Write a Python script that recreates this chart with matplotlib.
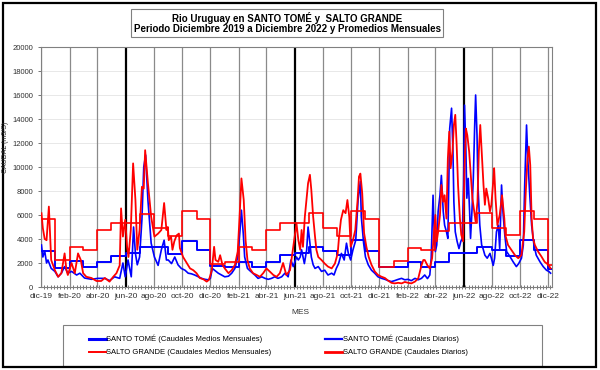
import numpy as np
import matplotlib.pyplot as plt
from matplotlib.lines import Line2D
from matplotlib.patches import Rectangle

plt.rcParams['font.family'] = ['Liberation Sans', 'DejaVu Sans']

# Eje temporal: dias contados desde el 1 de diciembre de 2019
inicio = np.datetime64('2019-12-01')
fin = np.datetime64('2022-12-09')

# Caudales diarios SALTO GRANDE (m3/s)
dias_sg = [1, 4, 8, 12, 17, 22, 30, 37, 44, 51, 55, 58, 66, 73, 80, 86, 91, 98, 109, 120,
           130, 138, 148, 156, 163, 170, 173, 177, 182, 186, 189, 194, 199, 204, 208, 213, 218, 222, 225, 231,
           238, 245, 253, 260, 266, 271, 274, 276, 281, 284, 288, 293, 298, 300, 307, 315, 322, 329, 336, 343,
           351, 358, 363, 369, 374, 377, 383, 387, 392, 397, 405, 412, 419, 425, 429, 433, 438, 442, 446, 451,
           458, 466, 473, 480, 487, 494, 502, 509, 516, 523, 530, 538, 545, 550, 552, 556, 560, 563, 566, 570,
           574, 577, 581, 584, 588, 592, 595, 599, 606, 613, 620, 628, 635, 641, 644, 648, 653, 658, 662, 666,
           669, 674, 679, 684, 687, 690, 694, 698, 703, 708, 714, 721, 728, 736, 743, 750, 757, 764, 772, 779,
           786, 793, 800, 808, 815, 822, 826, 829, 835, 840, 845, 849, 852, 855, 858, 862, 865, 869, 872, 876,
           879, 882, 885, 889, 892, 895, 898, 901, 905, 908, 912, 915, 918, 921, 925, 928, 932, 936, 939, 943,
           946, 949, 953, 956, 959, 962, 966, 970, 973, 977, 979, 982, 986, 991, 996, 1001, 1003, 1009, 1016, 1024,
           1031, 1038, 1044, 1047, 1051, 1054, 1057, 1060, 1063, 1067, 1074, 1081, 1088, 1096, 1101]
sg_diario = [6150, 4900, 4000, 3900, 6700, 2250, 1400, 850, 1150, 2800, 1400, 1000, 2000, 1150, 2800, 2250, 1150, 850, 750, 500,
             500, 750, 450, 850, 1150, 1800, 6550, 4200, 5600, 3350, 2500, 4750, 10300, 7250, 3100, 4750, 8350, 8200, 11400, 8650,
             5850, 4200, 4450, 4750, 7000, 4750, 5000, 3900, 4200, 3100, 3800, 4300, 4450, 3250, 2500, 2000, 1550, 1400, 1150, 750,
             640, 450, 600, 1400, 3350, 2250, 2100, 2650, 1850, 1550, 1150, 1400, 1850, 2950, 5850, 9050, 7250, 3900, 2250, 1550,
             1150, 1000, 850, 1150, 1550, 1300, 1000, 850, 1150, 2000, 1000, 1400, 3350, 4750, 5300, 3900, 3100, 4750, 3350, 5850,
             7500, 8650, 9350, 8100, 5850, 4200, 3100, 2500, 2250, 1950, 1700, 1550, 1950, 2800, 4200, 5600, 6400, 6150, 7250, 5850,
             3350, 3900, 4750, 7250, 9200, 9450, 7800, 4500, 3350, 2500, 1850, 1300, 1000, 850, 750, 530, 350, 300, 350, 300,
             420, 350, 300, 450, 720, 1800, 2250, 2250, 1800, 1550, 2400, 4600, 6000, 3800, 4600, 6000, 8500, 7100, 7650, 5700,
             10700, 12950, 9900, 11300, 13500, 14350, 11850, 8500, 5700, 4350, 3800, 9900, 13200, 12650, 11300, 9600, 7400, 6300, 5450, 7100,
             11300, 13500, 10700, 8500, 6850, 8200, 7400, 6300, 6850, 8800, 9900, 7400, 5150, 6000, 7650, 5700, 4350, 3500, 3100, 2650,
             2400, 2650, 4600, 7650, 10700, 11700, 10150, 5700, 4050, 3500, 2950, 2550, 2100, 1850, 1550]

# Caudales diarios SANTO TOME (m3/s)
dias_st = [1, 4, 8, 12, 15, 22, 30, 37, 44, 51, 58, 66, 77, 84, 94, 109, 123, 138, 148, 159,
           170, 177, 182, 188, 195, 200, 204, 208, 213, 218, 222, 226, 231, 238, 245, 253, 260, 266, 271, 275,
           282, 289, 296, 303, 311, 318, 325, 332, 340, 347, 354, 361, 366, 370, 375, 383, 390, 397, 405, 412,
           419, 425, 430, 433, 437, 440, 446, 453, 462, 469, 477, 484, 491, 498, 505, 512, 520, 527, 534, 540,
           545, 552, 556, 560, 563, 569, 574, 577, 581, 584, 588, 592, 599, 606, 613, 620, 628, 633, 638, 643,
           649, 655, 660, 664, 669, 674, 680, 685, 690, 692, 697, 701, 707, 714, 721, 728, 736, 743, 750, 757,
           764, 772, 779, 786, 793, 800, 808, 815, 822, 829, 835, 840, 843, 847, 849, 852, 855, 858, 862, 865,
           869, 872, 876, 879, 883, 887, 890, 892, 895, 899, 903, 907, 910, 913, 915, 918, 920, 923, 926, 928,
           931, 934, 937, 939, 942, 944, 948, 952, 955, 959, 964, 970, 973, 977, 980, 984, 988, 991, 995, 998,
           1002, 1006, 1013, 1020, 1027, 1032, 1038, 1042, 1045, 1049, 1052, 1056, 1060, 1065, 1070, 1078, 1085, 1092, 1097, 1101]
st_diario = [3500, 2500, 3000, 2000, 2250, 1550, 1300, 850, 1150, 1700, 1150, 1300, 1000, 1150, 750, 640, 720, 720, 530, 850,
             720, 2000, 850, 2250, 850, 5000, 2800, 1850, 2500, 5600, 10000, 11000, 7250, 3650, 2500, 1800, 3100, 3900, 2250, 2250,
             1950, 2500, 1850, 1550, 1400, 1150, 1100, 1000, 850, 720, 640, 600, 720, 1550, 1400, 1150, 1000, 850, 900, 1150,
             1550, 2500, 4750, 6400, 4450, 2500, 1550, 1300, 1000, 720, 850, 720, 640, 720, 850, 720, 850, 1150, 850, 2250,
             1700, 2500, 2250, 2500, 3100, 1950, 3100, 5000, 3650, 2500, 1850, 1550, 1700, 1300, 1400, 1000, 1150, 1000, 1550, 1950,
             2800, 2250, 3650, 2800, 2250, 3100, 3900, 7250, 8800, 5850, 3650, 2500, 1850, 1400, 1150, 850, 720, 640, 530, 450,
             530, 640, 720, 600, 640, 530, 720, 600, 720, 1000, 700, 1000, 2400, 7650, 5150, 2950, 3500, 6300, 7650, 9300,
             6300, 5150, 4600, 4050, 13200, 14900, 11300, 7100, 4600, 3800, 3200, 3800, 4050, 8500, 15150, 11300, 7400, 9050, 6300, 4050,
             6300, 9050, 13500, 16000, 12650, 8500, 5150, 3500, 3200, 2650, 2400, 2800, 2400, 1800, 2400, 4600, 5150, 3200, 8500, 6300,
             4350, 2950, 2550, 2100, 1700, 1950, 2400, 3500, 8500, 13500, 10450, 7650, 5150, 3500, 2650, 2100, 1700, 1400, 1300, 1150]

# Promedios mensuales, dic-19 a dic-22
st_mensual = [3000, 1600, 2150, 1700, 2050, 2600, 2850, 3350, 3300, 2750, 3850, 3050,
              1750, 1650, 2050, 1700, 2100, 2650, 2850, 3350, 3000, 2700, 3900, 3000,
              1650, 1650, 2100, 1700, 2100, 2800, 2850, 3350, 3100, 2600, 3900, 3050,
              1500]
sg_mensual = [5700, 2250, 3300, 3100, 4750, 5300, 5300, 6100, 4950, 4250, 6350, 5700,
              1900, 2100, 3300, 3100, 4750, 5300, 5350, 6150, 4950, 4250, 6330, 5650,
              1700, 2200, 3250, 3100, 4700, 5300, 5300, 6140, 4950, 4330, 6330, 5660,
              1800]

etiquetas = ['dic-19', 'feb-20', 'abr-20', 'jun-20', 'ago-20', 'oct-20', 'dic-20', 'feb-21', 'abr-21', 'jun-21',
             'ago-21', 'oct-21', 'dic-21', 'feb-22', 'abr-22', 'jun-22', 'ago-22', 'oct-22', 'dic-22']

leyenda = ['SANTO TOMÉ (Caudales Medios Mensuales)', 'SALTO GRANDE (Caudales Medios Mensuales)',
           'SANTO TOMÉ (Caudales Diarios)', 'SALTO GRANDE (Caudales Diarios)']

AZUL = '#0000ff'
ROJO = '#ff0000'

meses = np.arange('2019-12', '2023-01', dtype='datetime64[M]').astype('datetime64[D]')
x_mes = np.append(meses, fin)
fechas_sg = inicio + np.array(dias_sg).astype('timedelta64[D]')
fechas_st = inicio + np.array(dias_st).astype('timedelta64[D]')

fig = plt.figure(figsize=(6, 3.7), dpi=100)
ax = fig.add_axes([41 / 600, 1 - 287 / 370, 511 / 600, 240 / 370])

# series
ax.plot(x_mes, np.append(st_mensual, st_mensual[-1]), drawstyle='steps-post', color=AZUL, lw=1.4, zorder=3)
ax.plot(fechas_st, st_diario, color=AZUL, lw=1.2, zorder=3)
ax.plot(x_mes, np.append(sg_mensual, sg_mensual[-1]), drawstyle='steps-post', color=ROJO, lw=1.2, zorder=4)
ax.plot(fechas_sg, sg_diario, color=ROJO, lw=1.3, zorder=4)

# grilla vertical cada dos meses, junio mas marcado
ticks = meses[::2]
for t, lab in zip(ticks, etiquetas):
    if lab.startswith('jun'):
        ax.axvline(t, color='black', lw=1.6, zorder=2)
    else:
        ax.axvline(t, color='#8a8a8a', lw=0.9, zorder=2)

ax.set_xlim(inicio, fin)
ax.set_ylim(0, 20000)
ax.set_yticks(np.arange(0, 20001, 2000))
ax.yaxis.grid(True, color='#e4e4e4', lw=0.6, zorder=1)
ax.set_xticks(ticks)
ax.set_xticklabels(etiquetas)
ax.set_xticks(np.arange(inicio, fin, 7), minor=True)
ax.tick_params(axis='x', which='minor', length=2.5, direction='inout', color='#606060', width=0.6)
ax.tick_params(axis='x', which='major', length=0, pad=4, labelsize=6, labelcolor='#303030')
ax.tick_params(axis='y', length=2.5, width=0.6, color='#606060', pad=3, labelsize=5.5, labelcolor='#303030')
for s in ax.spines.values():
    s.set_color('#808080')
    s.set_linewidth(0.8)

fig.text(6 / 600, 1 - 147 / 370, 'CAUDAL (m3/S)', rotation=90, fontsize=5, ha='center', va='center', color='#303030')
fig.text(300 / 600, 1 - 312 / 370, 'MES', fontsize=6, ha='center', va='center', color='#303030')

fig.text(287 / 600, 1 - 23 / 370,
         'Rio Uruguay en SANTO TOMÉ y  SALTO GRANDE\nPeriodo Diciembre 2019 a Diciembre 2022 y Promedios Mensuales',
         ha='center', va='center', fontsize=7, fontweight='bold', linespacing=1.05,
         bbox=dict(boxstyle='square,pad=0.3', fc='white', ec='#808080', lw=0.8))

# leyenda
handles = [Line2D([], [], color=AZUL, lw=2.2), Line2D([], [], color=ROJO, lw=1.4),
           Line2D([], [], color=AZUL, lw=1.6), Line2D([], [], color=ROJO, lw=2.0)]
fig.add_artist(Rectangle((63 / 600, 4 / 370), 479 / 600, 41 / 370,
                         transform=fig.transFigure, fill=False, ec='#808080', lw=0.8))
fig.legend(handles, leyenda, loc='upper left', bbox_to_anchor=(85 / 600, 1 - 331 / 370), ncol=2,
           frameon=False, borderpad=0, fontsize=5.5, handlelength=2.2, handletextpad=0.1,
           labelspacing=0.75, columnspacing=7)

# marco exterior
fig.add_artist(Rectangle((3 / 600, 3 / 370), 593 / 600, 364 / 370, transform=fig.transFigure,
                         fill=False, ec='black', lw=1.6))

fig.savefig('out.png', dpi=100)
